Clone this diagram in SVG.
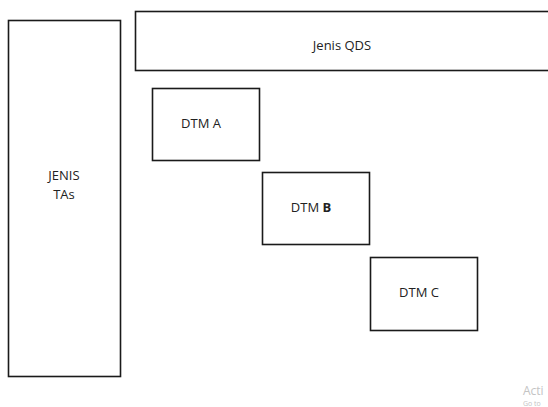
<svg xmlns="http://www.w3.org/2000/svg" width="548" height="407" viewBox="0 0 548 407">
<style>
.box{fill:#fff;stroke:#1a1a1a;stroke-width:1.6}
.t{font-family:"Open Sans","Liberation Sans",sans-serif;font-size:13px;fill:#222;text-anchor:middle}
.wm{font-family:"Open Sans","Liberation Sans",sans-serif;fill:#c4c4c4}
</style>
<rect width="548" height="407" fill="#fff"/>
<g id="jenis-tas">
<rect class="box" x="8.5" y="20.5" width="112" height="356"/>
<text class="t" x="64" y="180">JENIS</text>
<text class="t" x="64" y="199">TAs</text>
</g>
<g id="jenis-qds">
<rect class="box" x="135.5" y="11.5" width="420" height="59"/>
<text class="t" x="342" y="50">Jenis QDS</text>
</g>
<g id="dtm-a">
<rect class="box" x="152.5" y="88.5" width="107" height="72"/>
<text class="t" x="201" y="128">DTM A</text>
</g>
<g id="dtm-b">
<rect class="box" x="262.5" y="172.5" width="107" height="72"/>
<text class="t" x="311" y="212">DTM <tspan font-weight="bold">B</tspan></text>
</g>
<g id="dtm-c">
<rect class="box" x="370.5" y="257.5" width="107" height="73"/>
<text class="t" x="419" y="297">DTM C</text>
</g>
<g id="connectors"/>
<text class="wm" x="523" y="395" font-size="12">Acti</text>
<text class="wm" x="523" y="406" font-size="7">Go to</text>
</svg>
